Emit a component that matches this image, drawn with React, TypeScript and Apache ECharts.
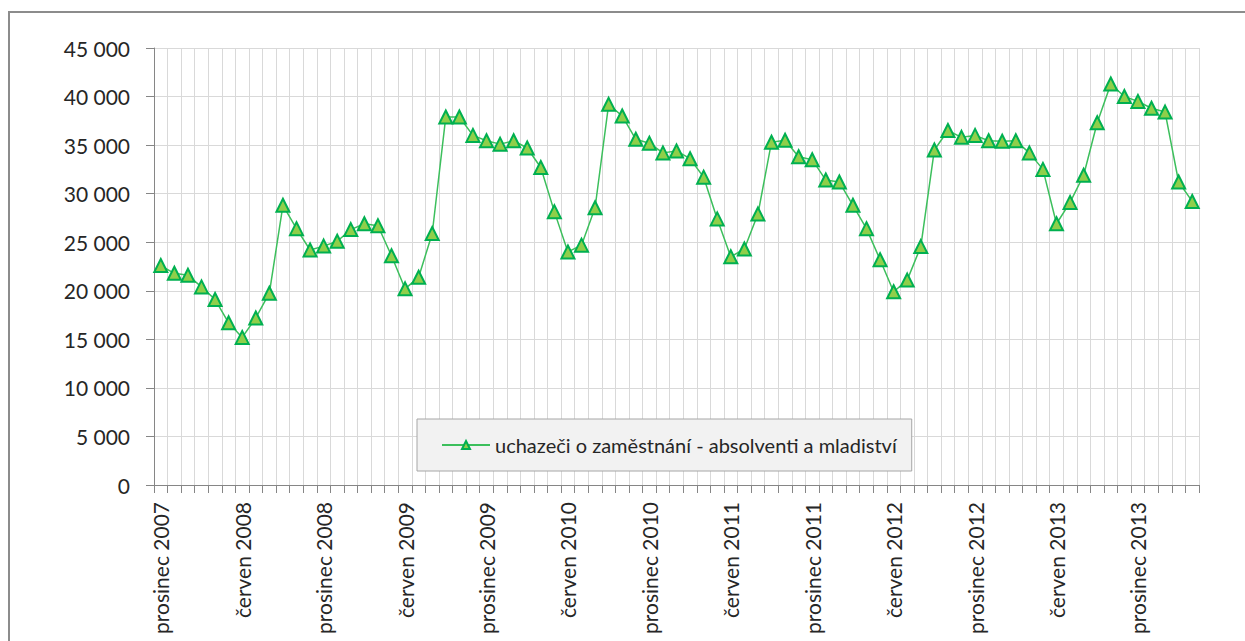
import React, { useEffect, useRef } from "react";
import * as echarts from "echarts";

const categories: string[] = [
  "prosinec 2007",
  "leden 2008", "únor 2008", "březen 2008", "duben 2008", "květen 2008", "červen 2008",
  "červenec 2008", "srpen 2008", "září 2008", "říjen 2008", "listopad 2008", "prosinec 2008",
  "leden 2009", "únor 2009", "březen 2009", "duben 2009", "květen 2009", "červen 2009",
  "červenec 2009", "srpen 2009", "září 2009", "říjen 2009", "listopad 2009", "prosinec 2009",
  "leden 2010", "únor 2010", "březen 2010", "duben 2010", "květen 2010", "červen 2010",
  "červenec 2010", "srpen 2010", "září 2010", "říjen 2010", "listopad 2010", "prosinec 2010",
  "leden 2011", "únor 2011", "březen 2011", "duben 2011", "květen 2011", "červen 2011",
  "červenec 2011", "srpen 2011", "září 2011", "říjen 2011", "listopad 2011", "prosinec 2011",
  "leden 2012", "únor 2012", "březen 2012", "duben 2012", "květen 2012", "červen 2012",
  "červenec 2012", "srpen 2012", "září 2012", "říjen 2012", "listopad 2012", "prosinec 2012",
  "leden 2013", "únor 2013", "březen 2013", "duben 2013", "květen 2013", "červen 2013",
  "červenec 2013", "srpen 2013", "září 2013", "říjen 2013", "listopad 2013", "prosinec 2013",
  "leden 2014", "únor 2014", "březen 2014", "duben 2014",
];

const seriesName = "uchazeči o zaměstnání - absolventi a mladiství";

const values: number[] = [
  22600,
  21800, 21600, 20400, 19100, 16700, 15200, 17200, 19750, 28800, 26400, 24200, 24600,
  25100, 26300, 26900, 26700, 23600, 20200, 21400, 25900, 37900, 37900, 36000, 35450,
  35100, 35450, 34700, 32700, 28150, 24000, 24700, 28550, 39200, 38000, 35600, 35200,
  34200, 34400, 33600, 31700, 27400, 23500, 24300, 27900, 35300, 35500, 33800, 33500,
  31400, 31200, 28800, 26400, 23200, 19900, 21100, 24550, 34500, 36500, 35800, 36000,
  35450, 35400, 35450, 34200, 32500, 26900, 29100, 31900, 37300, 41300, 40000, 39500,
  38800, 38400, 31200, 29200,
];

const yMin = 0;
const yMax = 45000;
const yStep = 5000;

const FONT = "Lato, 'Open Sans', sans-serif";
const TEXT = "#262626";

function fmt(v: number): string {
  return String(v).replace(/\B(?=(\d{3})+(?!\d))/g, " ");
}

export default function App() {
  const ref = useRef<HTMLDivElement>(null);
  useEffect(() => {
    if (!ref.current) return;
    const chart = echarts.init(ref.current, null, { renderer: "svg" });
    chart.setOption({
      animation: false,
      backgroundColor: "#ffffff",
      textStyle: { fontFamily: FONT },
      graphic: [
        {
          type: "rect",
          silent: true,
          z: -10,
          shape: { x: 9, y: 12, width: 1300, height: 700 },
          style: { fill: "none", stroke: "#8c8c8c", lineWidth: 2 },
        },
      ],
      grid: { left: 154, right: 46, top: 48, bottom: 156, containLabel: false },
      legend: {
        left: 417,
        top: 419,
        orient: "horizontal",
        padding: [16, 15, 16, 24],
        itemWidth: 48,
        itemHeight: 10,
        backgroundColor: "#f2f2f2",
        borderColor: "#a6a6a6",
        borderWidth: 1,
        textStyle: { fontFamily: FONT, fontSize: 20, color: TEXT },
        data: [seriesName],
      },
      xAxis: {
        type: "category",
        data: categories,
        boundaryGap: true,
        axisLine: { show: true, lineStyle: { color: "#868686", width: 1 } },
        axisTick: { show: true, interval: 0, length: 8, inside: false, lineStyle: { color: "#868686" } },
        splitLine: { show: true, interval: 0, lineStyle: { color: "#d9d9d9", width: 1 } },
        axisLabel: {
          interval: 5,
          rotate: 90,
          margin: 17,
          fontFamily: FONT,
          fontSize: 21,
          color: TEXT,
        },
      },
      yAxis: {
        type: "value",
        min: yMin,
        max: yMax,
        interval: yStep,
        axisLine: { show: true, lineStyle: { color: "#868686", width: 1 } },
        axisTick: { show: true, length: 8, inside: false, lineStyle: { color: "#868686" } },
        splitLine: { show: true, lineStyle: { color: "#d9d9d9", width: 1 } },
        axisLabel: {
          margin: 24,
          fontFamily: FONT,
          fontSize: 21,
          color: TEXT,
          formatter: (v: number) => fmt(v),
        },
      },
      series: [
        {
          name: seriesName,
          type: "line",
          data: values,
          symbol: "triangle",
          symbolSize: 13,
          showAllSymbol: true,
          lineStyle: { color: "#3cbf5c", width: 1.5 },
          itemStyle: { color: "#8fcf4a", borderColor: "#00b050", borderWidth: 2 },
          z: 5,
        },
      ],
    });
    return () => chart.dispose();
  }, []);
  return (
    <div
      ref={ref}
      style={{ position: "absolute", left: 0, top: 0, width: 1245, height: 641 }}
    />
  );
}
